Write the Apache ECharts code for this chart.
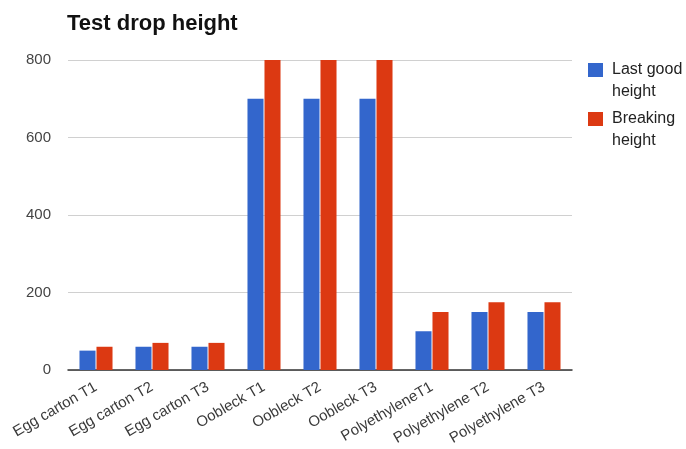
<!DOCTYPE html>
<html>
<head>
<meta charset="utf-8">
<script src="https://cdn.jsdelivr.net/npm/echarts@6/dist/echarts.min.js"></script>
<style>
  html, body { margin: 0; padding: 0; background: #fff; }
  #chart { width: 686px; height: 449px; }
</style>
</head>
<body>
<div id="chart"></div>
<script>
// Drop test results per packing material and trial
const categories = [
  'Egg carton T1', 'Egg carton T2', 'Egg carton T3',
  'Oobleck T1', 'Oobleck T2', 'Oobleck T3',
  'PolyethyleneT1', 'Polyethylene T2', 'Polyethylene T3'
];
const lastGoodHeight = [50, 60, 60, 700, 700, 700, 100, 150, 150];
const breakingHeight = [60, 70, 70, 800, 800, 800, 150, 175, 175];
const yTicks = [0, 200, 400, 600, 800];

const chart = echarts.init(document.getElementById('chart'), null, { renderer: 'canvas' });

const font = 'Arial, "Liberation Sans", sans-serif';

// Legend labels wrap onto two lines; a blank first line keeps the
// first text line level with the colour swatch.
const legendLabels = {
  'Last good height': ' \n{g| }Last good\n{g| }height',
  'Breaking height': ' \n{g| }Breaking\n{g| }height'
};

chart.setOption({
  animation: false,
  backgroundColor: '#ffffff',
  title: {
    text: 'Test drop height',
    left: 67,
    top: 13,
    padding: 0,
    textStyle: { fontFamily: font, fontSize: 22, fontWeight: 'bold', color: '#111' }
  },
  legend: {
    orient: 'vertical',
    left: 588,
    top: 37,
    padding: 0,
    itemWidth: 15,
    itemHeight: 14,
    itemGap: -17,
    icon: 'rect',
    data: ['Last good height', 'Breaking height'],
    formatter: function (name) { return legendLabels[name]; },
    textStyle: {
      fontFamily: font,
      fontSize: 16,
      color: '#222',
      lineHeight: 22,
      rich: {
        g: { width: 4, fontSize: 16, lineHeight: 22 }
      }
    }
  },
  grid: {
    left: 68,
    right: 114,
    top: 60,
    bottom: 79,
    containLabel: false
  },
  xAxis: {
    type: 'category',
    data: categories,
    axisTick: { show: false },
    axisLine: { lineStyle: { color: '#333', width: 1.5 } },
    axisLabel: {
      interval: 0,
      rotate: 30,
      margin: 16,
      fontFamily: font,
      fontSize: 15,
      color: '#3a3a3a'
    }
  },
  yAxis: {
    type: 'value',
    min: yTicks[0],
    max: yTicks[yTicks.length - 1],
    interval: yTicks[1] - yTicks[0],
    axisLine: { show: false },
    axisTick: { show: false },
    splitLine: { lineStyle: { color: '#d0d0d0', width: 1 } },
    axisLabel: {
      margin: 17,
      fontFamily: font,
      fontSize: 15,
      color: '#444'
    }
  },
  series: [
    {
      name: 'Last good height',
      type: 'bar',
      data: lastGoodHeight,
      itemStyle: { color: '#3366cc' },
      barGap: '6%',
      barCategoryGap: '41%'
    },
    {
      name: 'Breaking height',
      type: 'bar',
      data: breakingHeight,
      itemStyle: { color: '#dc3912' },
      barGap: '6%',
      barCategoryGap: '41%'
    }
  ]
});
</script>
</body>
</html>
